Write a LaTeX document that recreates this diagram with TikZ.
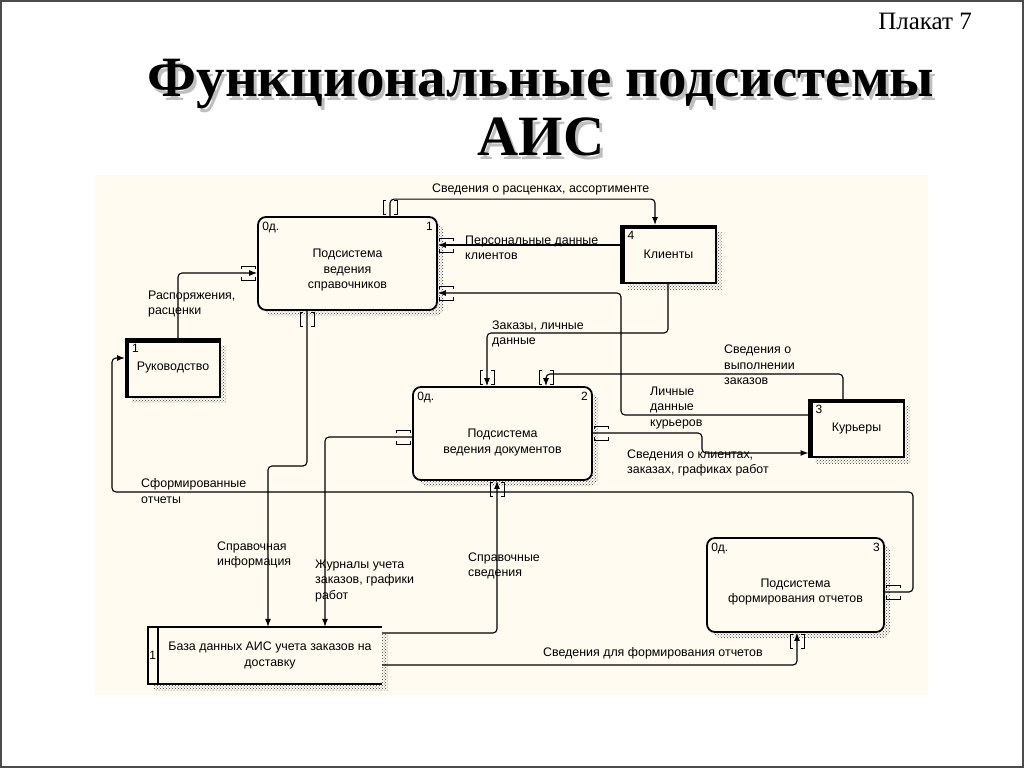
\documentclass[tikz,border=0pt]{standalone}
\usepackage{fontspec}
\setmainfont{Liberation Serif}
\setsansfont{Liberation Sans}
\usetikzlibrary{arrows.meta,patterns,shadows}

\definecolor{paper}{RGB}{255,251,240}
\definecolor{hatch}{RGB}{60,60,60}

\tikzset{
  title/.style={font=\bfseries\fontsize{57}{60}\selectfont, anchor=base, inner sep=0pt},
  flow/.style={line width=1.1pt, rounded corners=4pt, -{Latex[length=8pt,width=6pt]}},
  lbl/.style={font=\sffamily\fontsize{12.4}{15.5}\selectfont, align=left, anchor=west, inner sep=0pt},
  btext/.style={font=\sffamily\fontsize{12.4}{15.5}\selectfont, align=center, inner sep=0pt},
  corner/.style={font=\sffamily\fontsize{12}{14}\selectfont, inner sep=0pt},
  hshadow/.style={general shadow={shadow xshift=6pt, shadow yshift=-6pt, pattern=crosshatch dots, pattern color=hatch}},
  func/.style={draw, line width=1.8pt, rounded corners=8pt, fill=paper, hshadow, inner sep=0pt,
               minimum width=179pt, minimum height=93pt},
  ent/.style={draw, line width=2pt, fill=paper, hshadow, inner sep=0pt,
              minimum width=94pt, minimum height=57pt, font=\sffamily\fontsize{12.4}{15.5}\selectfont},
  tun/.pic={\draw[line width=0.9pt] (-16,-4) -- (-16,-7) -- (-2,-7) -- (-2,-4)
                                    (-16,4) -- (-16,7) -- (-2,7) -- (-2,4);},
}

\begin{document}
\begin{tikzpicture}[x=1pt,y=-1pt]
  \useasboundingbox (0,0) rectangle (1024,768);
  \draw[line width=1.5pt, black!70] (1,1) rectangle (1023,767);
  \fill[paper] (95,175) rectangle (928,695);

  % title
  \node[title, text=black!25] (title-s1) at (544,100) {Функциональные подсистемы};
  \node[title] (title-1) at (541,96) {Функциональные подсистемы};
  \node[title, text=black!25] (title-s2) at (544,159) {АИС};
  \node[title] (title-2) at (541,155) {АИС};
  \node[font=\fontsize{25}{28}\selectfont, anchor=base east, inner sep=0pt] (poster) at (972,30) {Плакат 7};

  % functional blocks
  \node[func, label={[corner,anchor=north west,xshift=5pt,yshift=-6pt]north west:0д.},
        label={[corner,anchor=north east,xshift=-5pt,yshift=-6pt]north east:1}] (sprav) at (347.5,263.5) {};
  \node[btext] (sprav-t) at ([yshift=-7pt]sprav.center) {Подсистема\\ведения\\справочников};
  \node[func, label={[corner,anchor=north west,xshift=5pt,yshift=-6pt]north west:0д.},
        label={[corner,anchor=north east,xshift=-5pt,yshift=-6pt]north east:2}] (docs) at (502.5,433.5) {};
  \node[btext] (docs-t) at ([yshift=-9pt]docs.center) {Подсистема\\ведения документов};
  \node[func, minimum width=177pt, minimum height=94pt,
        label={[corner,anchor=north west,xshift=5pt,yshift=-6pt]north west:0д.},
        label={[corner,anchor=north east,xshift=-5pt,yshift=-6pt]north east:3}] (otch) at (795.5,585) {};
  \node[btext] (otch-t) at ([yshift=-7pt]otch.center) {Подсистема\\формирования отчетов};

  % external entities
  \node[ent, label={[corner,anchor=north west,xshift=7pt,yshift=-6pt]north west:4}] (klient) at (668.5,254.5) {Клиенты};
  \node[ent, label={[corner,anchor=north west,xshift=7pt,yshift=-6pt]north west:1}] (ruk) at (173,368) {Руководство};
  \node[ent, label={[corner,anchor=north west,xshift=7pt,yshift=-6pt]north west:3}] (kur) at (856.5,428.5) {Курьеры};
  \foreach \e in {klient,ruk,kur}
    \draw[line width=4.5pt] ([xshift=2pt]\e.south west) |- ([yshift=-2pt]\e.north east);

  % data store
  \node[fill=paper, hshadow, inner sep=0pt, minimum width=234pt, minimum height=57pt,
        btext] (baza) at (265,655.5) {};
  \node[btext] (baza-t) at ([xshift=5pt]baza.center) {База данных АИС учета заказов на\\доставку};
  \draw[line width=1.8pt] (baza.north east) -- (baza.north west) -- (baza.south west) -- (baza.south east);
  \draw[line width=1.8pt] ([xshift=10pt]baza.north west) -- ([xshift=10pt]baza.south west);
  \node[corner] (baza-n) at ([xshift=5pt]baza.west) {1};

  % tunnel brackets
  \pic[rotate=-90] at (390,0 |- sprav.north) {tun};
  \pic at (sprav.west |- 0,273) {tun};
  \pic[rotate=180] at (sprav.east |- 0,245) {tun};
  \pic[rotate=180] at (sprav.east |- 0,293) {tun};
  \pic[rotate=90] at (307,0 |- sprav.south) {tun};
  \pic[rotate=-90] at (487,0 |- docs.north) {tun};
  \pic[rotate=-90] at (546,0 |- docs.north) {tun};
  \pic at (docs.west |- 0,437) {tun};
  \pic[rotate=180] at (docs.east |- 0,433) {tun};
  \pic[rotate=90] at (497,0 |- docs.south) {tun};
  \pic[rotate=180] at (otch.east |- 0,592) {tun};
  \pic[rotate=90] at (797,0 |- otch.south) {tun};

  % flows
  \draw[flow] (390,0 |- sprav.north) -- ++(0,-17) -| (655,0 |- klient.north);
  \node[lbl] (l-prices) at (432,189) {Сведения о расценках, ассортименте};

  \draw[flow] (klient.west |- 0,245) -- (sprav.east |- 0,245);
  \node[lbl] (l-pers) at (465,248) {Персональные данные\\клиентов};

  \draw[flow] (kur.west |- 0,415) -| (621,293) -- (sprav.east |- 0,293);
  \node[lbl] (l-kur) at (650,408) {Личные\\данные\\курьеров};

  \draw[flow] (668,0 |- klient.south) |- (487,333) -- (487,0 |- docs.north);
  \node[lbl] (l-zak) at (492,334) {Заказы, личные\\данные};

  \draw[flow] (843,0 |- kur.north) |- (546,374) -- (546,0 |- docs.north);
  \node[lbl] (l-vyp) at (724,365) {Сведения о\\выполнении\\заказов};

  \draw[flow] (docs.east |- 0,433) -| (702,453) -- (kur.west |- 0,453);
  \node[lbl] (l-graf) at (627,463) {Сведения о клиентах,\\заказах, графиках работ};

  \draw[flow] (178,0 |- ruk.north) |- (sprav.west |- 0,273);
  \node[lbl] (l-rasp) at (148,304) {Распоряжения,\\расценки};

  \draw[flow] (otch.east |- 0,592) -| (913,492) -| (112,358) -- (ruk.west |- 0,358);
  \node[lbl] (l-otch) at (141,491) {Сформированные\\отчеты};

  \draw[flow] (307,0 |- sprav.south) |- (268,466) -- (268,0 |- baza.north);
  \node[lbl] (l-inf) at (217,555) {Справочная\\информация};

  \draw[flow] (docs.west |- 0,437) -| (325,0 |- baza.north);
  \node[lbl] (l-jur) at (315,581) {Журналы учета\\заказов, графики\\работ};

  \draw[flow] (baza.east |- 0,633) -| (497,0 |- docs.south);
  \node[lbl] (l-sved) at (468,566) {Справочные\\сведения};

  \draw[flow] (baza.east |- 0,665) -| (797,0 |- otch.south);
  \node[lbl] (l-form) at (543,653) {Сведения для формирования отчетов};
\end{tikzpicture}
\end{document}
